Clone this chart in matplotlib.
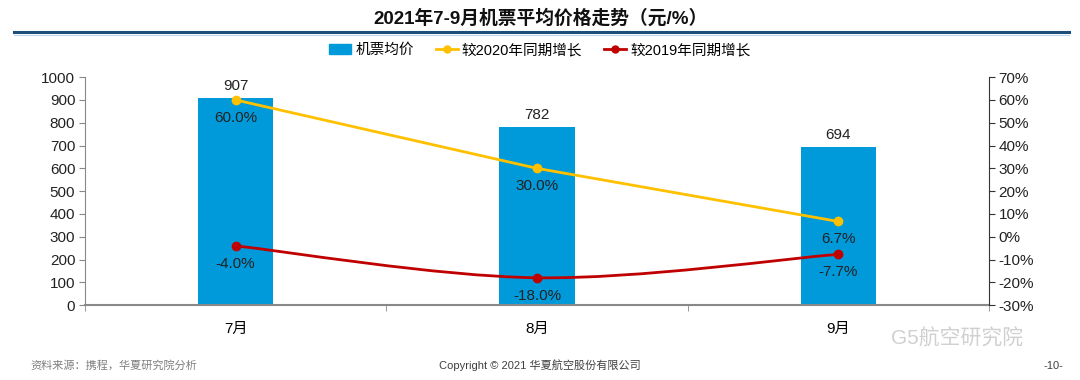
import matplotlib
matplotlib.use("Agg")
import matplotlib.pyplot as plt
from matplotlib.lines import Line2D
from matplotlib.patches import Patch, PathPatch
from matplotlib.path import Path
import numpy as np

plt.rcParams['font.family'] = ['Liberation Sans', 'Noto Sans CJK SC', 'DejaVu Sans']

months = ['7月', '8月', '9月']
price = [907, 782, 694]
yoy_2020 = [60.0, 30.0, 6.7]
yoy_2019 = [-4.0, -18.0, -7.7]

bar_color = '#009ADA'
c2020 = '#FFC000'
c2019 = '#C00000'


def smooth_path(xs, ys, t=0.5):
    # catmull-rom style bezier through the points (drawing only)
    xs = np.asarray(xs, float)
    ys = np.asarray(ys, float)
    n = len(xs)
    verts = [(xs[0], ys[0])]
    codes = [Path.MOVETO]
    for i in range(n - 1):
        p0 = np.array([xs[max(i - 1, 0)], ys[max(i - 1, 0)]])
        p1 = np.array([xs[i], ys[i]])
        p2 = np.array([xs[i + 1], ys[i + 1]])
        p3 = np.array([xs[min(i + 2, n - 1)], ys[min(i + 2, n - 1)]])
        c1 = p1 + (p2 - p0) * t / 3
        c2 = p2 - (p3 - p1) * t / 3
        verts += [tuple(c1), tuple(c2), tuple(p2)]
        codes += [Path.CURVE4] * 3
    return Path(verts, codes)


fig = plt.figure(figsize=(10.8, 3.8), dpi=100)
ax = fig.add_axes([0.0787, 0.197, 0.8370, 0.600])
x = np.arange(len(months))

ax.bar(x, price, width=0.25, color=bar_color, zorder=2)
for xi, v in zip(x, price):
    ax.text(xi, v + 22, str(v), ha='center', va='bottom', fontsize=11, color='#222222')

ax.set_xlim(-0.5, 2.5)
ax.set_ylim(0, 1000)
ax.set_yticks(range(0, 1001, 100))
ax.set_xticks(x)
ax.set_xticklabels(months, fontsize=11)
ax.tick_params(axis='x', length=0, pad=12)
ax.tick_params(axis='y', labelsize=11, colors='#222222', length=4, color='#888888', pad=3)
ax.set_xticks([-0.5, 0.5, 1.5, 2.5], minor=True)
ax.tick_params(axis='x', which='minor', length=4, color='#888888')
for s in ['top', 'right']:
    ax.spines[s].set_visible(False)
ax.spines['left'].set_color('#888888')
ax.spines['bottom'].set_color('#888888')
ax.spines['bottom'].set_linewidth(1.5)

ax2 = ax.twinx()
ax2.plot(x, yoy_2020, color=c2020, lw=2, marker='o', ms=6, zorder=3)
ax2.add_patch(PathPatch(smooth_path(x, yoy_2019), facecolor='none', edgecolor=c2019,
                        lw=2, zorder=3))
ax2.plot(x, yoy_2019, color=c2019, lw=0, marker='o', ms=6, zorder=4)
for xi, v in zip(x, yoy_2020):
    ax2.text(xi, v - 4.8, f'{v:.1f}%', ha='center', va='top', fontsize=11, color='#222222')
for xi, v in zip(x, yoy_2019):
    ax2.text(xi, v - 4.8, f'{v:.1f}%', ha='center', va='top', fontsize=11, color='#222222')
ax2.set_ylim(-30, 70)
ax2.set_yticks(range(-30, 71, 10))
ax2.set_yticklabels([f'{t}%' for t in range(-30, 71, 10)])
ax2.tick_params(axis='y', labelsize=11, colors='#222222', length=4, color='#333333', pad=3)
for s in ['top', 'left', 'bottom']:
    ax2.spines[s].set_visible(False)
ax2.spines['right'].set_color('#333333')

handles = [Patch(color=bar_color),
           Line2D([0], [0], color=c2020, lw=2, marker='o', ms=5),
           Line2D([0], [0], color=c2019, lw=2, marker='o', ms=5)]
fig.legend(handles, ['机票均价', '较2020年同期增长', '较2019年同期增长'],
           loc='center', bbox_to_anchor=(0.5, 0.868), ncol=3, frameon=False,
           fontsize=10.5, handlelength=1.5, handletextpad=0.3, columnspacing=1.5)

fig.text(0.5, 0.952, '2021年7-9月机票平均价格走势（元/%）', ha='center', va='center',
         fontsize=13.5, fontweight='bold', color='#111111')
fig.add_artist(Line2D([0.013, 0.99], [0.915, 0.915], color='#1F4E79', lw=2.2))
fig.add_artist(Line2D([0.013, 0.99], [0.909, 0.909], color='#BDD7EE', lw=0.8))

fig.text(0.028, 0.038, '资料来源：携程，华夏研究院分析', fontsize=8, color='#7F7F7F', va='center')
fig.text(0.5, 0.038, 'Copyright © 2021 华夏航空股份有限公司', fontsize=8, color='#404040',
         ha='center', va='center')
fig.text(0.975, 0.038, '-10-', fontsize=8, color='#404040', ha='center', va='center')
fig.text(0.825, 0.108, 'G5航空研究院', fontsize=15, color='#D0D0D0', va='center', zorder=5)

fig.savefig('out.png', dpi=100)
